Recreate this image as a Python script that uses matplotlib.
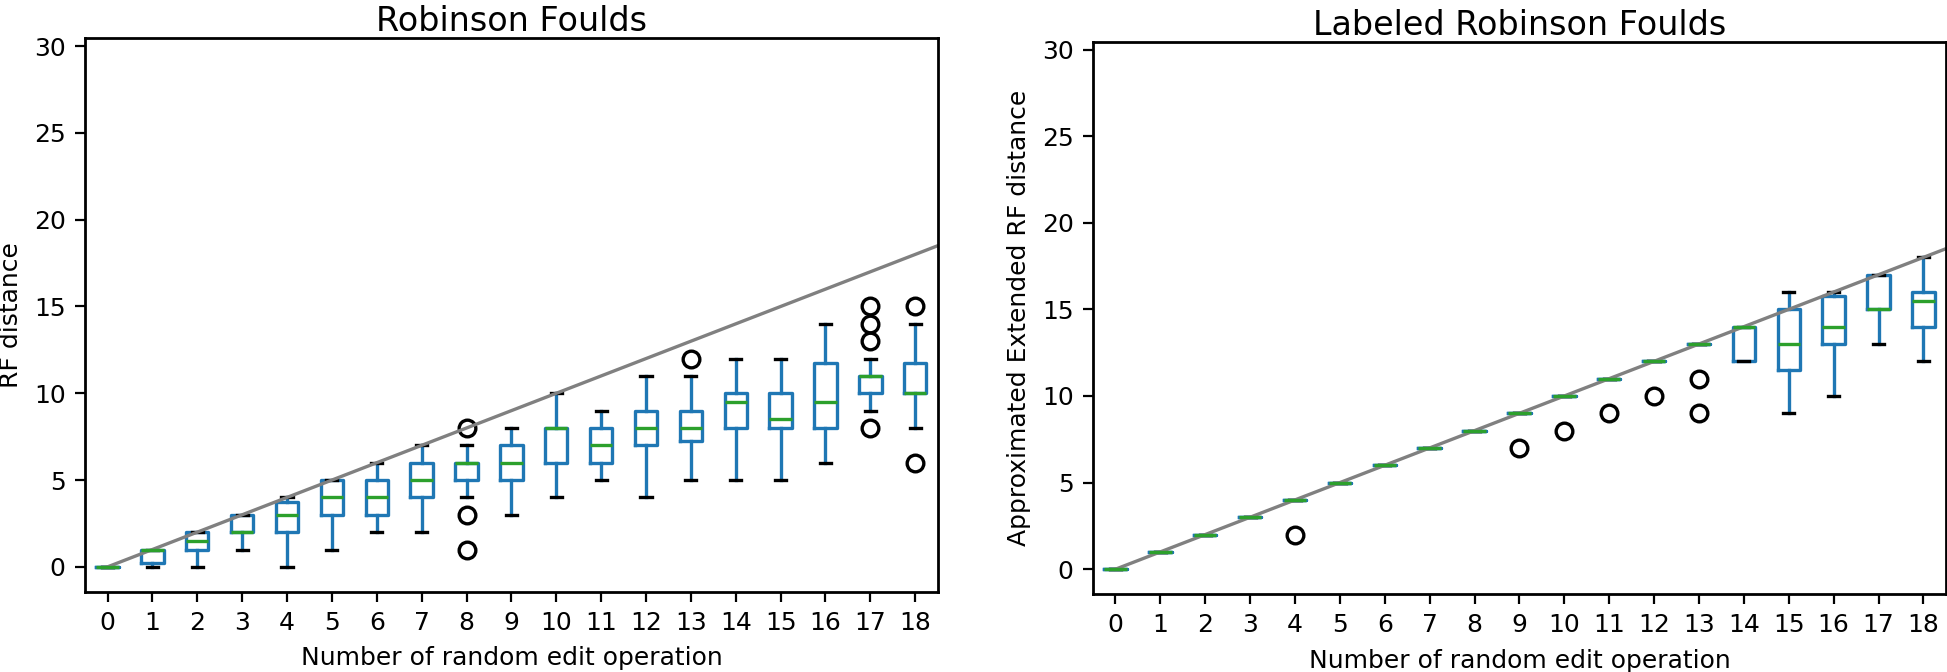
import matplotlib
matplotlib.use("Agg")
import matplotlib.pyplot as plt
import numpy as np

plt.rcParams['font.family'] = 'DejaVu Sans'
plt.rcParams['font.size'] = 9.0

# number of random edit operations (x categories)
edits = [0, 1, 2, 3, 4, 5, 6, 7, 8, 9, 10, 11, 12, 13, 14, 15, 16, 17, 18]

# Robinson Foulds box stats
rf_med = [0, 1, 1.5, 2, 3, 4, 4, 5, 6, 6, 8, 7, 8, 8, 9.5, 8.5, 9.5, 11, 10]
rf_q1 = [0, 0.25, 1, 2, 2, 3, 3, 4, 5, 5, 6, 6, 7, 7.25, 8, 8, 8, 10, 10]
rf_q3 = [0, 1, 2, 3, 3.75, 5, 5, 6, 6, 7, 8, 8, 9, 9, 10, 10, 11.75, 11, 11.75]
rf_lo = [0, 0, 0, 1, 0, 1, 2, 2, 4, 3, 4, 5, 4, 5, 5, 5, 6, 9, 8]
rf_hi = [0, 1, 2, 3, 4, 5, 6, 7, 7, 8, 10, 9, 11, 11, 12, 12, 14, 12, 14]
rf_out = [[], [], [], [], [], [], [], [], [8, 3, 1], [], [], [], [], [12],
          [], [], [], [15, 14, 13, 8], [15, 6]]

# Labeled Robinson Foulds
lrf_med = [0, 1, 2, 3, 4, 5, 6, 7, 8, 9, 10, 11, 12, 13, 14, 13, 14, 15, 15.5]
lrf_q1 = [0, 1, 2, 3, 4, 5, 6, 7, 8, 9, 10, 11, 12, 13, 12, 11.5, 13, 15, 14]
lrf_q3 = [0, 1, 2, 3, 4, 5, 6, 7, 8, 9, 10, 11, 12, 13, 14, 15, 15.75, 17, 16]
lrf_lo = [0, 1, 2, 3, 4, 5, 6, 7, 8, 9, 10, 11, 12, 13, 12, 9, 10, 13, 12]
lrf_hi = [0, 1, 2, 3, 4, 5, 6, 7, 8, 9, 10, 11, 12, 13, 14, 16, 16, 17, 18]
lrf_out = [[], [], [], [], [2], [], [], [], [], [7], [8], [9], [10], [11, 9],
           [], [], [], [], []]

# reference line y = x
ref_x = [0, 19]
ref_y = [0, 19]


def make_stats(med, q1, q3, lo, hi, out):
    stats = []
    for i in range(len(med)):
        stats.append(dict(med=med[i], q1=q1[i], q3=q3[i],
                          whislo=lo[i], whishi=hi[i], fliers=out[i]))
    return stats


def draw(ax, stats, title, ylabel):
    ax.bxp(stats, positions=edits, widths=0.5,
           boxprops=dict(color='#1f77b4', linewidth=1.2),
           whiskerprops=dict(color='#1f77b4', linewidth=1.2),
           capprops=dict(color='k', linewidth=1.2),
           medianprops=dict(color='#2ca02c', linewidth=1.2),
           flierprops=dict(marker='o', markerfacecolor='none',
                           markeredgecolor='k', markeredgewidth=1.2))
    ax.plot(ref_x, ref_y, color='gray', linewidth=1.2)
    ax.set_xlim(-0.5, 18.5)
    ax.set_ylim(-1.43, 30.45)
    ax.set_xticks(edits)
    ax.set_xticklabels([str(e) for e in edits])
    ax.set_title(title, fontsize=12, pad=2.5)
    ax.set_xlabel('Number of random edit operation')
    ax.set_ylabel(ylabel)
    for s in ax.spines.values():
        s.set_linewidth(1.0)


fig = plt.figure(figsize=(9.735, 3.36), dpi=200)
ax1 = fig.add_axes([0.0437, 0.1195, 0.4379, 0.8235])
ax2 = fig.add_axes([0.5614, 0.1161, 0.4380, 0.8218])

draw(ax1, make_stats(rf_med, rf_q1, rf_q3, rf_lo, rf_hi, rf_out),
     'Robinson Foulds', 'RF distance')
draw(ax2, make_stats(lrf_med, lrf_q1, lrf_q3, lrf_lo, lrf_hi, lrf_out),
     'Labeled Robinson Foulds', 'Approximated Extended RF distance')

fig.savefig('out.png', dpi=200)
